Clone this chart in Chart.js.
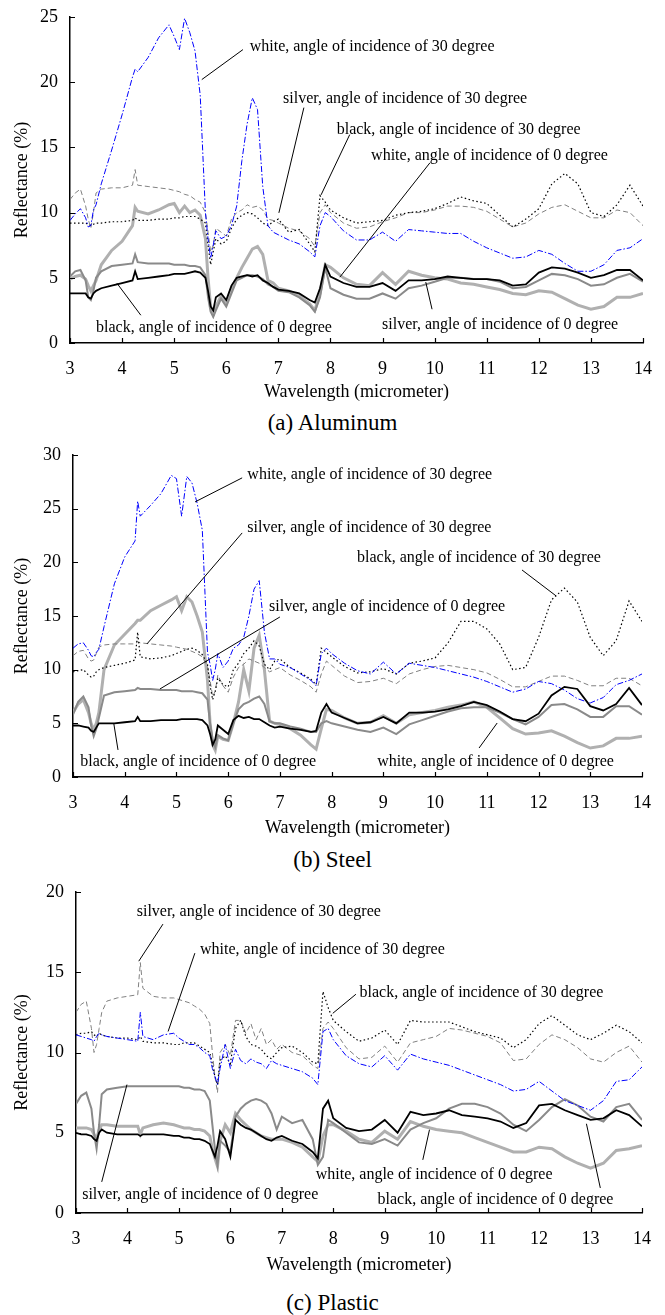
<!DOCTYPE html>
<html>
<head>
<meta charset="utf-8">
<script src="https://cdn.jsdelivr.net/npm/chart.js@4.4.1/dist/chart.umd.min.js"></script>
<style>
  body { margin:0; background:#fff; }
  #page { position:relative; width:665px; height:1315px; overflow:hidden; }
  .box { position:absolute; left:0; }
  .cap { position:absolute; left:0; width:665px; text-align:center; font:23px "Liberation Serif", serif; line-height:26px; color:#000; }
</style>
</head>
<body>
<div id="page">
  <div class="box" style="top:0px"><canvas id="chA" width="665" height="403"></canvas></div>
  <div class="cap" style="top:410px">(a) Aluminum</div>
  <div class="box" style="top:430px"><canvas id="chB" width="665" height="409"></canvas></div>
  <div class="cap" style="top:847px">(b) Steel</div>
  <div class="box" style="top:870px"><canvas id="chC" width="665" height="406"></canvas></div>
  <div class="cap" style="top:1290px">(c) Plastic</div>
</div>
<script>
// wavelength grid (micrometer), shared by all curves
const wl = [3.0,3.1,3.2,3.3,3.35,3.4,3.45,
  3.5,3.6,3.8,4.0,4.2,4.25,4.3,4.5,
  4.7,4.9,5.0,5.1,5.2,5.3,5.4,5.5,
  5.6,5.65,5.7,5.75,5.8,5.9,6.0,6.1,
  6.2,6.3,6.4,6.5,6.6,6.7,6.8,6.9,
  7.0,7.2,7.4,7.6,7.7,7.8,7.9,8.0,
  8.25,8.5,8.75,9.0,9.25,9.5,9.75,10.0,
  10.25,10.5,10.75,11.0,11.25,11.5,11.75,12.0,
  12.25,12.5,12.75,13.0,13.25,13.5,13.75,14.0];

// (a) Aluminum
const alWhite30 = [9.4,9.9,10.3,9.6,8.9,9.0,10.2,
  10.6,12.2,14.8,17.5,20.4,21.0,20.8,21.9,
  23.4,24.4,23.5,22.5,24.9,23.8,22.4,19.0,
  10.0,8.0,6.5,7.5,8.6,8.0,8.2,9.0,
  10.5,14.0,16.8,18.8,17.9,12.0,9.0,8.5,
  8.3,7.9,7.6,7.0,6.6,9.0,10.0,9.7,
  8.6,7.9,7.9,8.5,7.8,8.7,8.6,8.5,
  8.4,8.4,7.8,7.3,6.9,6.5,6.6,7.1,
  6.8,6.1,5.5,5.5,6.0,7.1,7.3,8.0];
const alSilver30 = [11.0,11.5,11.8,10.5,9.5,8.8,10.0,
  11.5,11.8,11.9,11.9,12.1,13.3,12.1,12.0,
  11.9,11.8,11.7,11.6,11.4,11.3,11.0,10.8,
  10.0,8.5,7.0,7.5,8.8,8.5,8.2,9.5,
  10.0,10.2,10.6,10.4,10.5,10.2,9.5,9.4,
  9.2,8.8,8.6,8.0,7.4,10.0,10.6,10.0,
  9.2,8.8,8.9,9.3,9.6,10.0,10.0,10.2,
  10.5,10.5,10.4,10.1,9.5,8.9,9.2,9.9,
  10.4,10.6,10.1,9.6,9.6,10.2,10.0,9.0];
const alBlack30 = [9.2,9.2,9.2,9.2,9.1,9.0,9.1,
  9.2,9.2,9.3,9.3,9.4,9.6,9.4,9.4,
  9.5,9.5,9.6,9.6,9.7,9.7,9.7,9.5,
  9.2,7.5,6.0,7.0,8.0,7.6,7.8,8.8,
  9.5,9.8,10.0,9.9,9.6,9.2,9.0,9.3,
  9.5,8.5,8.7,7.6,7.0,11.3,10.8,10.2,
  9.6,9.2,9.3,9.4,9.8,10.0,10.1,10.3,
  10.7,11.2,10.9,10.7,9.8,8.9,9.5,10.3,
  12.2,13.0,12.2,10.0,9.7,10.6,12.1,10.5];
const alWhite0 = [4.9,5.1,5.2,4.9,4.4,4.0,4.4,
  4.8,6.0,7.1,7.8,9.0,10.4,10.1,9.9,
  10.2,10.6,10.7,10.0,10.5,10.0,10.2,9.8,
  8.0,5.0,2.8,2.2,2.8,3.6,3.0,4.2,
  5.0,5.8,6.5,7.2,7.4,6.8,4.8,4.6,
  4.2,4.0,3.6,3.0,2.5,3.8,6.0,5.8,
  5.0,4.5,4.4,5.4,4.5,5.5,5.2,5.0,
  4.9,4.6,4.5,4.3,4.1,3.8,3.7,4.0,
  3.9,3.4,2.9,2.6,2.8,3.5,3.5,3.8];
const alSilver0 = [5.1,5.5,5.6,4.8,3.5,3.3,4.0,
  5.0,5.5,5.9,6.0,6.1,6.8,6.2,6.1,
  6.1,6.1,6.0,6.0,6.0,5.9,5.9,5.8,
  5.2,3.5,2.4,2.0,2.5,3.4,2.8,3.8,
  4.8,5.0,5.2,5.2,5.1,4.9,4.5,4.3,
  4.0,3.9,3.5,2.9,2.4,3.5,5.8,4.2,
  3.7,3.4,3.4,3.8,3.4,4.2,4.4,4.7,
  5.0,5.0,4.9,4.9,4.7,4.2,4.3,4.8,
  5.3,5.2,4.9,4.4,4.5,5.0,5.3,4.7];
const alBlack0 = [3.8,3.8,3.8,3.8,3.5,3.4,3.8,
  4.0,4.2,4.4,4.6,4.8,5.5,4.9,5.0,
  5.1,5.2,5.3,5.3,5.3,5.4,5.5,5.4,
  5.0,4.0,2.8,2.5,3.5,3.8,3.3,4.4,
  5.0,5.1,5.2,5.1,5.2,4.8,4.6,4.3,
  4.1,4.0,3.8,3.3,3.1,4.2,6.0,5.1,
  4.6,4.3,4.3,4.6,4.0,4.8,4.8,4.9,
  5.1,5.0,4.9,4.9,4.8,4.4,4.5,5.4,
  5.8,5.7,5.4,5.0,5.2,5.6,5.6,4.8];

// (b) Steel
const stWhite30 = [12.0,12.4,12.5,11.8,11.3,11.2,11.6,
  11.9,14.0,18.0,20.5,22.0,25.7,24.3,25.3,
  26.4,28.1,27.8,24.3,28.0,27.4,25.5,23.0,
  11.6,10.5,9.0,10.0,11.5,10.2,10.8,12.0,
  12.3,13.0,15.0,17.5,18.3,13.5,11.0,11.0,
  10.5,10.2,9.6,9.0,8.5,11.5,12.0,11.5,
  10.6,9.9,9.6,10.7,9.6,10.6,10.4,10.2,
  9.9,9.6,9.3,8.9,8.4,7.9,8.2,8.9,
  8.7,8.1,7.3,6.9,7.4,8.6,9.0,9.6];
const stSilver30 = [11.3,11.7,11.8,11.0,10.8,10.9,11.5,
  12.1,12.3,12.4,12.4,12.4,12.6,12.5,12.4,
  12.3,12.2,12.1,12.0,11.9,11.7,11.5,11.2,
  10.3,9.0,7.5,8.0,9.5,8.5,7.9,9.3,
  10.2,10.5,11.0,10.8,10.6,10.2,9.8,10.0,
  10.2,9.5,9.0,8.4,7.9,9.6,10.8,10.4,
  9.4,8.8,8.9,9.2,8.7,9.6,10.0,10.3,
  10.4,10.2,10.0,9.7,9.1,8.4,8.4,8.9,
  9.4,9.4,9.0,8.5,8.5,9.2,9.2,8.5];
const stBlack30 = [9.8,9.9,10.0,9.5,9.3,9.4,9.8,
  10.0,10.2,10.4,10.6,10.9,13.5,11.2,11.0,
  11.1,11.3,11.5,11.7,11.9,12.0,11.8,11.4,
  10.5,8.5,7.2,8.0,9.2,8.6,8.4,10.0,
  10.6,11.5,12.0,12.7,12.2,10.5,10.0,10.8,
  11.0,10.2,9.7,9.1,8.6,12.0,11.6,11.2,
  10.3,9.7,9.8,10.1,9.6,10.6,10.8,11.1,
  12.5,14.5,14.5,13.8,12.4,10.0,10.2,13.0,
  16.5,17.6,16.3,13.0,11.3,12.7,16.4,14.5];
const stWhite0 = [6.0,6.8,7.2,6.0,5.0,4.4,5.0,
  6.0,10.0,12.3,13.3,14.3,14.6,14.6,15.5,
  16.0,16.5,16.8,15.5,16.8,16.3,15.0,13.5,
  9.0,5.0,3.0,2.5,3.8,3.5,3.4,5.0,
  7.0,10.0,8.0,12.0,13.2,10.0,5.2,5.0,
  4.9,4.5,3.9,3.0,2.6,4.5,6.3,6.2,
  5.5,5.0,5.1,5.7,5.0,5.8,6.0,6.2,
  6.5,6.7,7.0,6.5,5.5,4.5,4.0,4.1,
  4.3,3.8,3.2,2.7,2.9,3.6,3.6,3.8];
const stSilver0 = [5.8,7.0,7.5,6.5,4.8,3.8,4.5,
  5.5,7.6,7.9,8.0,8.1,8.3,8.2,8.2,
  8.1,8.1,8.1,8.0,8.0,8.0,7.9,7.8,
  7.2,5.0,3.5,2.8,3.9,3.6,3.4,5.0,
  6.3,6.8,7.0,7.3,7.5,6.8,5.2,5.0,
  5.0,4.7,4.5,4.2,4.2,5.0,5.2,5.0,
  4.7,4.4,4.2,4.6,4.0,4.9,5.3,5.7,
  6.1,6.4,6.5,6.5,6.0,5.4,4.9,5.6,
  6.7,6.8,6.3,5.6,5.6,6.6,6.6,5.8];
const stBlack0 = [4.8,4.8,4.7,4.6,4.3,4.2,4.6,
  5.0,5.0,5.0,5.1,5.2,5.6,5.2,5.2,
  5.3,5.3,5.3,5.4,5.4,5.4,5.4,5.3,
  4.8,4.0,3.0,3.5,4.8,4.4,4.0,5.3,
  5.7,5.5,5.6,5.4,5.4,5.1,4.8,4.6,
  4.7,4.5,4.4,4.2,4.3,6.0,6.8,6.0,
  5.5,5.0,5.1,5.6,5.0,6.0,6.0,6.1,
  6.3,6.6,7.0,6.7,6.1,5.4,5.2,5.9,
  7.6,8.4,8.2,6.6,6.2,6.8,8.3,6.7];

// (c) Plastic
const plWhite30 = [11.1,11.0,10.9,10.8,10.7,11.0,11.2,
  11.1,11.0,10.9,10.8,10.7,12.5,11.0,10.8,
  11.1,11.2,10.9,10.7,10.5,10.5,10.3,10.0,
  9.8,9.0,8.5,8.0,9.0,10.5,9.0,10.2,
  9.5,9.3,9.6,9.4,9.3,9.0,9.5,9.3,
  9.2,9.0,8.8,8.4,8.0,11.3,11.5,10.8,
  9.8,9.3,9.1,9.8,8.9,9.9,9.6,9.4,
  9.2,8.9,8.6,8.3,8.0,7.6,7.7,8.2,
  7.6,7.0,6.7,6.4,7.0,8.2,8.3,9.1];
const plSilver30 = [12.5,13.0,13.2,11.5,10.0,10.5,11.5,
  12.5,13.2,13.4,13.5,13.6,15.6,14.0,13.5,
  13.4,13.4,13.3,13.2,13.1,12.9,12.7,12.4,
  11.8,10.0,8.5,7.5,10.0,10.5,9.8,12.0,
  12.0,11.2,11.8,10.8,11.5,10.5,10.8,10.2,
  10.5,10.0,9.8,9.2,9.0,11.5,11.9,11.5,
  10.3,9.6,9.7,10.4,9.4,10.6,10.8,11.0,
  11.5,11.4,11.2,11.0,10.6,9.5,9.6,10.5,
  11.1,10.8,10.3,9.6,9.4,10.0,10.4,9.4];
const plBlack30 = [11.1,11.2,11.2,11.3,11.1,11.0,11.2,
  11.1,11.0,10.9,10.9,10.8,11.0,10.7,10.6,
  10.6,10.5,10.5,10.6,10.6,10.6,10.4,10.2,
  10.0,9.3,8.5,8.0,9.5,9.8,9.3,11.5,
  12.0,11.0,10.5,10.4,10.2,9.8,9.6,10.0,
  10.3,10.4,10.0,9.4,9.3,13.8,12.8,12.0,
  11.3,10.7,10.9,11.4,10.5,12.0,11.9,11.9,
  11.9,11.6,11.3,11.1,10.9,10.3,10.8,11.8,
  12.3,11.7,11.1,10.8,11.2,11.7,11.3,10.6];
const plWhite0 = [5.3,5.3,5.3,5.2,4.9,4.6,5.2,
  5.5,5.5,5.4,5.4,5.4,4.9,5.3,5.5,
  5.6,5.5,5.4,5.3,5.3,5.2,5.2,5.1,
  4.8,4.0,3.4,2.9,4.5,5.5,5.0,6.2,
  5.8,5.5,5.2,5.0,4.8,4.7,4.6,4.6,
  4.6,4.4,4.1,3.5,3.2,4.8,5.5,5.5,
  5.1,4.6,4.4,5.1,4.6,5.7,5.4,5.2,
  5.1,5.0,4.7,4.4,4.1,3.8,3.8,4.1,
  4.0,3.5,3.1,2.8,3.1,3.9,4.0,4.2];
const plSilver0 = [6.8,7.3,7.5,6.5,5.0,4.0,5.5,
  7.4,7.7,7.8,7.9,7.9,7.9,7.9,7.9,
  7.9,7.9,7.9,7.8,7.8,7.7,7.7,7.6,
  7.0,5.5,4.0,3.0,4.5,4.2,3.8,6.0,
  6.5,6.8,7.0,7.1,7.0,6.8,6.2,5.2,
  6.0,5.6,5.8,4.6,3.0,3.5,5.8,5.6,
  5.0,4.4,4.3,4.6,4.2,5.2,5.6,5.9,
  6.5,6.8,6.8,6.6,6.2,5.5,5.1,5.8,
  6.6,7.1,6.7,6.0,5.7,6.6,6.8,5.8];
const plBlack0 = [5.0,4.9,4.9,4.8,4.6,4.5,5.0,
  5.2,5.0,4.9,4.9,4.9,4.8,4.9,4.9,
  4.9,4.8,4.8,4.7,4.7,4.6,4.6,4.5,
  4.3,3.9,3.5,4.2,5.1,4.6,3.5,5.8,
  5.5,5.3,5.2,5.0,4.8,4.6,4.5,4.7,
  4.8,4.5,4.3,3.8,3.4,6.5,7.0,5.9,
  5.3,5.1,5.2,5.8,5.0,6.3,6.1,6.2,
  6.4,6.1,6.0,5.9,5.7,5.3,5.6,6.7,
  6.8,6.4,6.1,5.8,5.9,6.4,6.1,5.4];

// callouts: text anchor, leader line start and end (data units)
const notesA = [
  {text:'white, angle of incidence of 30 degree', at:[6.45,22.75], from:[6.32,22.5], to:[5.53,20.2]},
  {text:'silver, angle of incidence of 30 degree', at:[7.09,18.75], from:[7.49,18.05], to:[7.01,9.98]},
  {text:'black, angle of incidence of 30 degree', at:[8.12,16.36], from:[8.37,15.98], to:[7.82,11.36]},
  {text:'white, angle of incidence of 0 degree', at:[8.78,14.36], from:[9.91,13.82], to:[8.18,5.05]},
  {text:'black, angle of incidence of 0 degree', at:[3.5,1.13], from:[4.36,2.13], to:[3.9,4.59]},
  {text:'silver, angle of incidence of 0 degree', at:[8.99,1.36], from:[9.95,2.59], to:[9.83,4.67]}
];
const notesB = [
  {text:'white, angle of incidence of 30 degree', at:[6.37,28.15], from:[6.27,27.87], to:[5.36,25.63]},
  {text:'silver, angle of incidence of 30 degree', at:[6.37,23.2], from:[6.27,22.74], to:[4.43,12.4]},
  {text:'silver, angle of incidence of 0 degree', at:[6.79,15.84], from:[7.0,14.91], to:[4.68,8.2]},
  {text:'black, angle of incidence of 30 degree', at:[8.49,20.41], from:[11.68,19.29], to:[12.34,16.87]},
  {text:'black, angle of incidence of 0 degree', at:[3.14,1.4], from:[3.87,2.52], to:[3.79,4.94]},
  {text:'white, angle of incidence of 0 degree', at:[8.88,1.4], from:[10.85,2.7], to:[11.2,5.03]}
];
const notesC = [
  {text:'silver, angle of incidence of 30 degree', at:[4.18,18.75], from:[4.69,18.0], to:[4.22,15.69]},
  {text:'white, angle of incidence of 30 degree', at:[5.41,16.38], from:[5.31,16.19], to:[4.79,11.31]},
  {text:'black, angle of incidence of 30 degree', at:[8.51,13.75], from:[8.44,13.63], to:[7.99,12.44]},
  {text:'silver, angle of incidence of 0 degree', at:[3.12,1.13], from:[3.5,1.94], to:[3.99,8.0]},
  {text:'white, angle of incidence of 0 degree', at:[7.66,2.38], from:[9.74,3.31], to:[9.87,5.19]},
  {text:'black, angle of incidence of 0 degree', at:[8.86,0.81], from:[13.19,1.56], to:[12.92,5.56]}
];

const SERIF = '"Liberation Serif", "Times New Roman", serif';
Chart.defaults.font.family = SERIF;
Chart.defaults.color = '#000';

// inward tick marks + callout lines and texts
const notesPlugin = {
  id: 'notes',
  afterDatasetsDraw(chart, args, opts) {
    const ctx = chart.ctx, xs = chart.scales.x, ys = chart.scales.y, a = chart.chartArea;
    ctx.save();
    ctx.strokeStyle = '#000';
    ctx.lineWidth = 1.2;
    ctx.beginPath();
    xs.ticks.forEach(t => {
      const p = Math.round(xs.getPixelForValue(t.value)) + 0.5;
      ctx.moveTo(p, a.bottom); ctx.lineTo(p, a.bottom - 5);
    });
    ys.ticks.forEach(t => {
      const p = Math.round(ys.getPixelForValue(t.value)) + 0.5;
      ctx.moveTo(a.left, p); ctx.lineTo(a.left + 5, p);
    });
    ctx.stroke();
    ctx.lineWidth = 1;
    ctx.font = '16px ' + SERIF;
    ctx.fillStyle = '#000';
    ctx.textBaseline = 'middle';
    (opts.items || []).forEach(n => {
      ctx.beginPath();
      ctx.moveTo(xs.getPixelForValue(n.from[0]), ys.getPixelForValue(n.from[1]));
      ctx.lineTo(xs.getPixelForValue(n.to[0]), ys.getPixelForValue(n.to[1]));
      ctx.stroke();
      ctx.fillText(n.text, xs.getPixelForValue(n.at[0]), ys.getPixelForValue(n.at[1]));
    });
    ctx.restore();
  }
};

function pts(vals) { return wl.map((w, i) => ({x: w, y: vals[i]})); }

function makeChart(id, top, height, plot, ymax, s, notes) {
  const datasets = [
    {data: pts(s.black0), borderColor:'#000000', borderWidth:1.8},
    {data: pts(s.white30), borderColor:'#0000ff', borderWidth:1, borderDash:[6,2,1.5,2]},
    {data: pts(s.black30), borderColor:'#000000', borderWidth:1.2, borderDash:[1.5,2.5]},
    {data: pts(s.silver30), borderColor:'#808080', borderWidth:1, borderDash:[5,3]},
    {data: pts(s.silver0), borderColor:'#8a8a8a', borderWidth:2},
    {data: pts(s.white0), borderColor:'#b0b0b0', borderWidth:3}
  ];
  datasets.forEach(d => { d.pointRadius = 0; d.fill = false; d.tension = 0; });
  return new Chart(document.getElementById(id), {
    type: 'line',
    data: {datasets},
    plugins: [notesPlugin],
    options: {
      responsive: false,
      animation: false,
      layout: {padding: {top: plot.top - top, right: 665 - plot.right, left: 0, bottom: 0}},
      plugins: {legend: {display:false}, tooltip: {enabled:false}, notes: {items: notes}},
      scales: {
        x: {
          type: 'linear', min: 3, max: 14,
          grid: {display:false, drawTicks:false},
          border: {display:true, color:'#000', width:1.5},
          ticks: {stepSize:1, padding:15, maxRotation:0, font:{size:18}, color:'#000'},
          title: {display:true, text:'Wavelength (micrometer)', font:{size:18}, color:'#000', padding:0},
          afterFit(sc) { sc.height = height - (plot.bottom - top); sc.paddingLeft = 0; sc.paddingRight = 0; }
        },
        y: {
          min: 0, max: ymax,
          grid: {display:false, drawTicks:false},
          border: {display:true, color:'#000', width:1.5},
          ticks: {stepSize:5, padding:12, font:{size:18}, color:'#000'},
          title: {display:true, text:'Reflectance (%)', font:{size:18}, color:'#000', padding:{top:11, bottom:0}},
          afterFit(sc) { sc.width = plot.left; sc.paddingTop = 0; sc.paddingBottom = 0; }
        }
      }
    }
  });
}

makeChart('chA', 0, 403, {left:70, top:17, right:643, bottom:343}, 25,
  {white30:alWhite30, silver30:alSilver30, black30:alBlack30, white0:alWhite0, silver0:alSilver0, black0:alBlack0}, notesA);
makeChart('chB', 430, 409, {left:73, top:455, right:642, bottom:777}, 30,
  {white30:stWhite30, silver30:stSilver30, black30:stBlack30, white0:stWhite0, silver0:stSilver0, black0:stBlack0}, notesB);
makeChart('chC', 870, 406, {left:76, top:892, right:642, bottom:1213}, 20,
  {white30:plWhite30, silver30:plSilver30, black30:plBlack30, white0:plWhite0, silver0:plSilver0, black0:plBlack0}, notesC);
</script>
</body>
</html>
